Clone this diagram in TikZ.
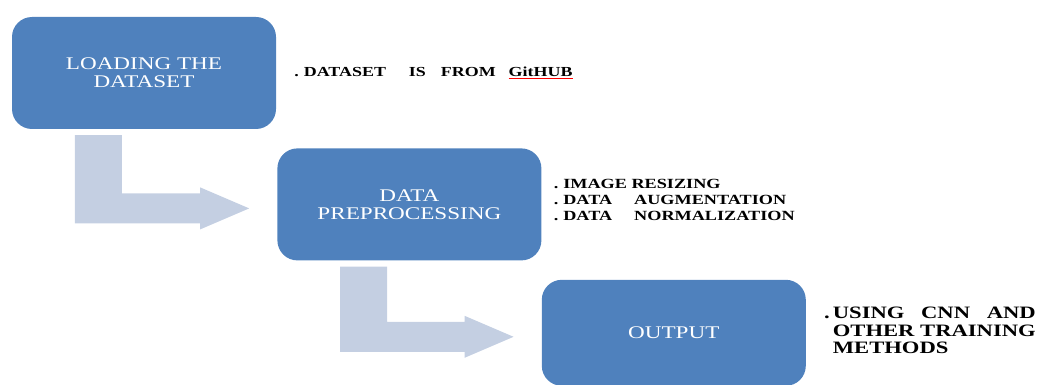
\documentclass[tikz,border=0pt]{standalone}
\usepackage{fontspec}
\setmainfont{Liberation Serif}[FakeStretch=1.3]
\usepackage{calc}
\usepackage{tikz}
\usetikzlibrary{positioning, calc}

\definecolor{stageblue}{RGB}{79,129,189}
\definecolor{flowgray}{RGB}{196,207,226}

\begin{document}
\begin{tikzpicture}[x=1pt, y=-1pt,
    stage/.style={fill=stageblue, rounded corners=20pt, minimum width=264pt, minimum height=112pt, inner sep=0pt, align=center, text=white, font=\fontsize{17.8}{18}\selectfont},
    note/.style={align=left, inner sep=0pt, font=\fontsize{14}{16}\selectfont\bfseries},
    flow/.style={fill=flowgray}
]
\useasboundingbox (0,0) rectangle (1037,385);

% the three stages
\node[stage] (load) at (144,73) {LOADING THE\\DATASET};
\node[stage, below right=19pt and 1pt of load.south east] (prep) {DATA\\PREPROCESSING};
\node[stage, minimum height=106pt, below right=19pt and 0pt of prep.south east] (result) {OUTPUT};

% bent arrows between the stages
\foreach \src/\dst in {load/prep, prep/result}
  \fill[flow] ($(\src.south west)+(63,6)$) -- ++(47,0) |- ($(\dst.west)+(-77,-11)$) -- ++(0,-6)
    -- ($(\dst.west)+(-28,4)$) -- ($(\dst.west)+(-77,25)$) -- ++(0,-6) -| ($(\src.south west)+(63,6)$) -- cycle;

% notes beside the stages
\node[note, font=\fontsize{13.8}{16}\selectfont\bfseries, right=18pt of load] (source)
  {.\hspace{5pt}DATASET\hspace{23pt}IS\hspace{15pt}FROM\hspace{13pt}{\color{red}\underline{\color{black}GitHUB}}};
\node[note, right=12pt of prep, yshift=4pt] (steps)
  {.\hspace{5pt}IMAGE RESIZING\\
   .\hspace{5pt}DATA\hspace{22pt}AUGMENTATION\\
   .\hspace{5pt}DATA\hspace{22pt}NORMALIZATION};
\node[note, font=\fontsize{17.4}{17.6}\selectfont\bfseries, right=18pt of result] (method)
  {\begin{tabular}{@{}l@{\hspace{3pt}}l@{}}
   . & \makebox[\widthof{OTHER TRAINING}][s]{USING CNN AND}\\
     & OTHER TRAINING\\
     & METHODS
   \end{tabular}};
\end{tikzpicture}
\end{document}
